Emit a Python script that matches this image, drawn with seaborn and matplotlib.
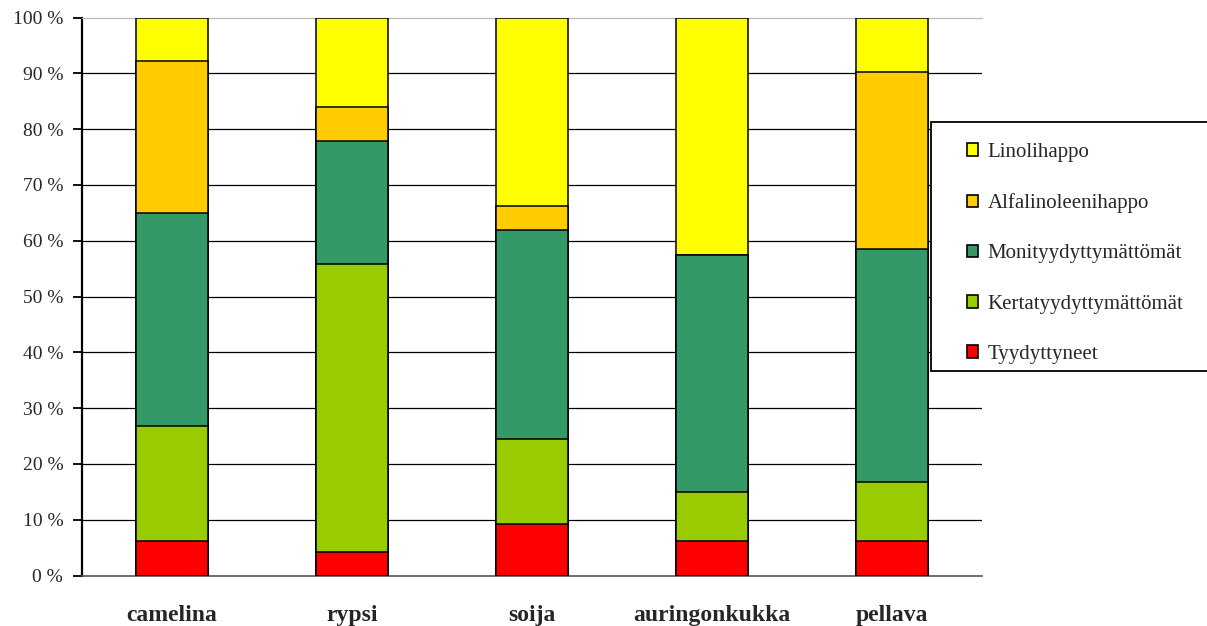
import matplotlib
matplotlib.use("Agg")
import matplotlib.pyplot as plt
from matplotlib.patches import Patch, Rectangle
import numpy as np
import pandas as pd
import seaborn as sns

# Fatty acid composition of vegetable oils (% of total)
categories = ["camelina", "rypsi", "soija", "auringonkukka", "pellava"]
tyydyttyneet = [6.1, 4.3, 9.3, 6.1, 6.1]
kertatyydyttymattomat = [20.7, 51.6, 15.1, 8.9, 10.7]
monityydyttymattomat = [38.2, 21.9, 37.6, 42.4, 41.7]
alfalinoleenihappo = [27.2, 6.1, 4.3, 0.0, 31.8]
linolihappo = [7.8, 16.1, 33.7, 42.6, 9.7]

series_names = ["Tyydyttyneet", "Kertatyydyttymättömät", "Monityydyttymättömät",
                "Alfalinoleenihappo", "Linolihappo"]
series_values = [tyydyttyneet, kertatyydyttymattomat, monityydyttymattomat,
                 alfalinoleenihappo, linolihappo]
series_colors = ["#FF0000", "#99CC00", "#339966", "#FFCC00", "#FFFF00"]
y_ticks = [0, 10, 20, 30, 40, 50, 60, 70, 80, 90, 100]
y_tick_labels = [f"{t} %" for t in y_ticks]

sns.set_theme(style="white")
plt.rcParams["font.family"] = ["Liberation Serif", "DejaVu Serif"]

fig = plt.figure(figsize=(12.07, 6.26), dpi=100)
ax = fig.add_axes([82 / 1207, 1 - 575.5 / 626, 900 / 1207, 558 / 626])

# Normalise each bar to 100 % and build cumulative stack heights
vals = np.array(series_values, dtype=float)
vals = vals / vals.sum(axis=0) * 100
cum = np.cumsum(vals, axis=0)

df = pd.DataFrame({"kasvi": np.tile(categories, len(series_names)),
                   "sarja": np.repeat(series_names, len(categories)),
                   "kertyma": cum.ravel()})

# Draw the stack from the top segment down so lower layers overlay upper ones
for name, color in reversed(list(zip(series_names, series_colors))):
    sub = df[df["sarja"] == name]
    sns.barplot(data=sub, x="kasvi", y="kertyma", order=categories, color=color,
                width=0.4, edgecolor="black", linewidth=1.1, saturation=1,
                errorbar=None, ax=ax, zorder=3)

ax.set_ylim(0, 100)
ax.set_xlim(-0.5, len(categories) - 0.5)
ax.set_yticks(y_ticks)
ax.set_yticklabels(y_tick_labels, fontsize=14)
ax.set_xticks(range(len(categories)))
ax.set_xticklabels(categories, fontsize=17, fontweight="bold")
ax.set_xlabel("")
ax.set_ylabel("")

# Horizontal gridlines behind the bars
for t in y_ticks[1:-1]:
    ax.axhline(t, color="black", lw=0.9, zorder=1)

ax.spines["right"].set_visible(False)
ax.spines["top"].set_color("#bbbbbb")
ax.spines["top"].set_linewidth(0.9)
ax.spines["left"].set_color("black")
ax.spines["left"].set_linewidth(1.6)
ax.spines["bottom"].set_color("#555555")
ax.spines["bottom"].set_linewidth(1.2)

ax.tick_params(axis="y", direction="out", length=6.5, width=1.3, color="black",
               pad=7, left=True)
ax.tick_params(axis="x", length=0, pad=21.5)

# Legend box
fig.patches.append(Rectangle((931 / 1207, 1 - 371 / 626), 300 / 1207, 249.3 / 626,
                             transform=fig.transFigure, facecolor="white",
                             edgecolor="black", linewidth=1.3, zorder=5))

handles = [Patch(facecolor=c, edgecolor="black", linewidth=1.2)
           for c in reversed(series_colors)]
leg = fig.legend(handles, list(reversed(series_names)), loc="upper left",
                 bbox_to_anchor=(967 / 1207, 1 - 143 / 626),
                 frameon=False, fontsize=15, borderpad=0, borderaxespad=0,
                 handlelength=0.55, handleheight=0.55, handletextpad=0.45,
                 labelspacing=1.5)
leg.set_zorder(6)

fig.savefig("out.png", dpi=100)
